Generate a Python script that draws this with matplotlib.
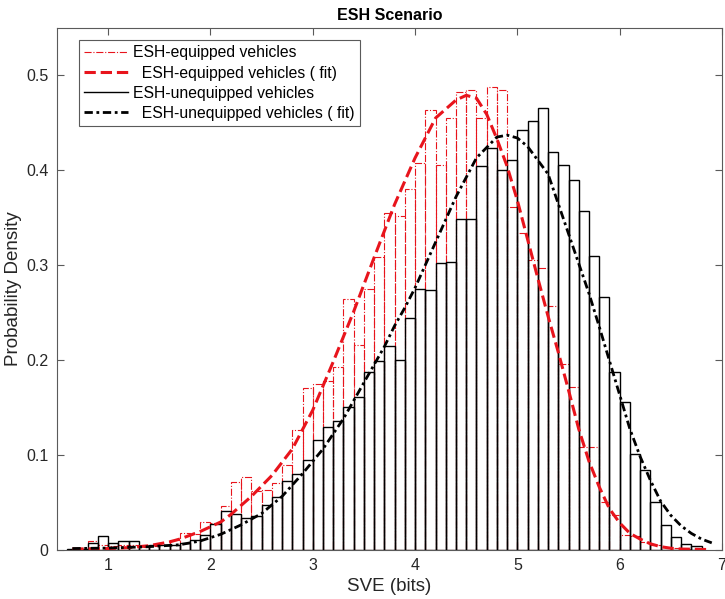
import matplotlib
matplotlib.use("Agg")
import matplotlib.pyplot as plt
from matplotlib.lines import Line2D

plt.rcParams['font.family'] = ['Liberation Sans', 'DejaVu Sans']

# bin left edges (width 0.1)
bin_width = 0.1
eq_left = [0.7, 0.8, 0.9, 1.0, 1.1, 1.2, 1.3, 1.4, 1.5, 1.6, 1.7, 1.8, 1.9,
           2.0, 2.1, 2.2, 2.3, 2.4, 2.5, 2.6, 2.7, 2.8, 2.9, 3.0, 3.1, 3.2,
           3.3, 3.4, 3.5, 3.6, 3.7, 3.8, 3.9, 4.0, 4.1, 4.2, 4.3, 4.4, 4.5,
           4.6, 4.7, 4.8, 4.9, 5.0, 5.1, 5.2, 5.3, 5.4, 5.5, 5.6, 5.7, 5.8,
           5.9, 6.0, 6.1, 6.2, 6.3, 6.4, 6.5, 6.6]
eq_density = [0.001, 0.009, 0.005, 0.004, 0.005, 0.005, 0.003, 0.004, 0.005,
              0.010, 0.017, 0.016, 0.029, 0.028, 0.046, 0.071, 0.076, 0.062,
              0.063, 0.070, 0.089, 0.126, 0.170, 0.175, 0.178, 0.193, 0.264,
              0.216, 0.275, 0.308, 0.355, 0.352, 0.380, 0.408, 0.463, 0.405,
              0.455, 0.482, 0.485, 0.455, 0.488, 0.485, 0.361, 0.334, 0.305,
              0.297, 0.257, 0.196, 0.171, 0.108, 0.108, 0.050, 0.036, 0.015,
              0.014, 0.008, 0.005, 0.003, 0.002, 0.001]

uneq_left = [0.6, 0.7, 0.8, 0.9, 1.0, 1.1, 1.2, 1.3, 1.4, 1.5, 1.6, 1.7, 1.8,
             1.9, 2.0, 2.1, 2.2, 2.3, 2.4, 2.5, 2.6, 2.7, 2.8, 2.9, 3.0, 3.1,
             3.2, 3.3, 3.4, 3.5, 3.6, 3.7, 3.8, 3.9, 4.0, 4.1, 4.2, 4.3, 4.4,
             4.5, 4.6, 4.7, 4.8, 4.9, 5.0, 5.1, 5.2, 5.3, 5.4, 5.5, 5.6, 5.7,
             5.8, 5.9, 6.0, 6.1, 6.2, 6.3, 6.4, 6.5, 6.6, 6.7]
uneq_density = [0.001, 0.001, 0.007, 0.014, 0.0065, 0.0085, 0.0085, 0.004,
                0.0046, 0.005, 0.005, 0.0065, 0.0105, 0.015, 0.027, 0.041,
                0.037, 0.033, 0.035, 0.047, 0.055, 0.072, 0.080, 0.094, 0.115,
                0.129, 0.136, 0.150, 0.161, 0.187, 0.199, 0.215, 0.200, 0.244,
                0.275, 0.274, 0.302, 0.303, 0.349, 0.349, 0.404, 0.423, 0.400,
                0.411, 0.442, 0.452, 0.466, 0.419, 0.405, 0.390, 0.357, 0.310,
                0.266, 0.187, 0.156, 0.101, 0.084, 0.050, 0.026, 0.013, 0.006,
                0.004]

# fitted curves
eq_fit_x = [0.65, 1.0, 1.2, 1.4, 1.6, 1.7, 1.9, 2.1, 2.2, 2.4, 2.6, 2.8, 3.0,
            3.2, 3.4, 3.6, 3.8, 4.0, 4.2, 4.4, 4.5, 4.6, 4.7, 4.8, 4.9, 5.0,
            5.1, 5.2, 5.3, 5.4, 5.5, 5.6, 5.7, 5.8, 5.9, 6.0, 6.1, 6.2, 6.3,
            6.4, 6.5, 6.6, 6.85]
eq_fit_y = [0.0005, 0.001, 0.002, 0.004, 0.008, 0.011, 0.019, 0.029, 0.037,
            0.056, 0.078, 0.106, 0.147, 0.198, 0.251, 0.308, 0.364, 0.413,
            0.455, 0.474, 0.479, 0.476, 0.459, 0.433, 0.404, 0.368, 0.327,
            0.286, 0.246, 0.208, 0.168, 0.127, 0.093, 0.066, 0.043, 0.028,
            0.017, 0.011, 0.006, 0.003, 0.0013, 0.0005, 0.0]

uneq_fit_x = [0.65, 1.0, 1.4, 1.7, 1.9, 2.1, 2.3, 2.5, 2.7, 2.9, 3.1, 3.3,
              3.5, 3.7, 3.8, 3.9, 4.0, 4.1, 4.2, 4.4, 4.6, 4.8, 4.9, 5.0,
              5.1, 5.3, 5.5, 5.7, 5.8, 5.9, 6.0, 6.1, 6.2, 6.3, 6.4, 6.5,
              6.6, 6.7, 6.8, 6.9]
uneq_fit_y = [0.001, 0.0015, 0.003, 0.005, 0.009, 0.016, 0.026, 0.038, 0.056,
              0.080, 0.106, 0.138, 0.176, 0.214, 0.236, 0.255, 0.276, 0.300,
              0.324, 0.372, 0.413, 0.435, 0.437, 0.434, 0.425, 0.396, 0.333,
              0.270, 0.235, 0.199, 0.163, 0.127, 0.098, 0.073, 0.051, 0.036,
              0.025, 0.017, 0.011, 0.007]

x_ticks = [1, 2, 3, 4, 5, 6, 7]
y_ticks = [0, 0.1, 0.2, 0.3, 0.4, 0.5]
y_ticklabels = ['0', '0.1', '0.2', '0.3', '0.4', '0.5']

labels = ['ESH-equipped vehicles', '  ESH-equipped vehicles ( fit)',
          'ESH-unequipped vehicles', '  ESH-unequipped vehicles ( fit)']

red = '#e8141c'
axcol = '#5a5a5a'
txtcol = '#262626'

fig = plt.figure(figsize=(7.25, 5.99), dpi=100)
ax = fig.add_axes([57 / 725, 1 - 549.5 / 599, (722 - 57) / 725, (549.5 - 28) / 599])

ax.bar(eq_left, eq_density, width=bin_width, align='edge', fill=False,
       edgecolor=red, linestyle='-.', linewidth=0.8, zorder=2)
ax.bar(uneq_left, uneq_density, width=bin_width, align='edge', fill=False,
       edgecolor='black', linestyle='-', linewidth=1.0, zorder=3)
h2, = ax.plot(eq_fit_x, eq_fit_y, color=red, linestyle='--', linewidth=2.2,
              zorder=4)
h4, = ax.plot(uneq_fit_x, uneq_fit_y, color='black',
              linestyle=(0, (3, 1.3, 1, 1.3)), linewidth=2.0, zorder=5)

ax.set_xlim(0.5, 7)
ax.set_ylim(0, 0.55)
ax.set_xticks(x_ticks)
ax.set_yticks(y_ticks)
ax.set_yticklabels(y_ticklabels)
ax.tick_params(direction='in', top=True, right=True, length=5, width=0.8,
               colors=axcol, labelcolor=txtcol, labelsize=11.5)
ax.tick_params(axis='x', pad=6)
ax.tick_params(axis='y', pad=6)
for s in ax.spines.values():
    s.set_color(axcol)
    s.set_linewidth(0.8)

ax.set_xlabel('SVE (bits)', fontsize=13.5, color=txtcol, labelpad=4)
ax.set_ylabel('Probability Density', fontsize=13.5, color=txtcol, labelpad=3)
ax.set_title('ESH Scenario', fontsize=11.5, fontweight='bold', pad=6)

lh1 = Line2D([], [], color=red, linestyle='-.', linewidth=0.8)
lh3 = Line2D([], [], color='black', linestyle='-', linewidth=1.0)
leg = ax.legend([lh1, h2, lh3, h4], labels, loc='upper left',
                bbox_to_anchor=(0.033, 0.977), borderaxespad=0,
                fancybox=False, framealpha=1, edgecolor=axcol,
                fontsize=11.3, handlelength=2.8, handletextpad=0.3,
                labelspacing=0.32, borderpad=0.35)
leg.get_frame().set_linewidth(0.8)

fig.savefig('out.png', dpi=100)
